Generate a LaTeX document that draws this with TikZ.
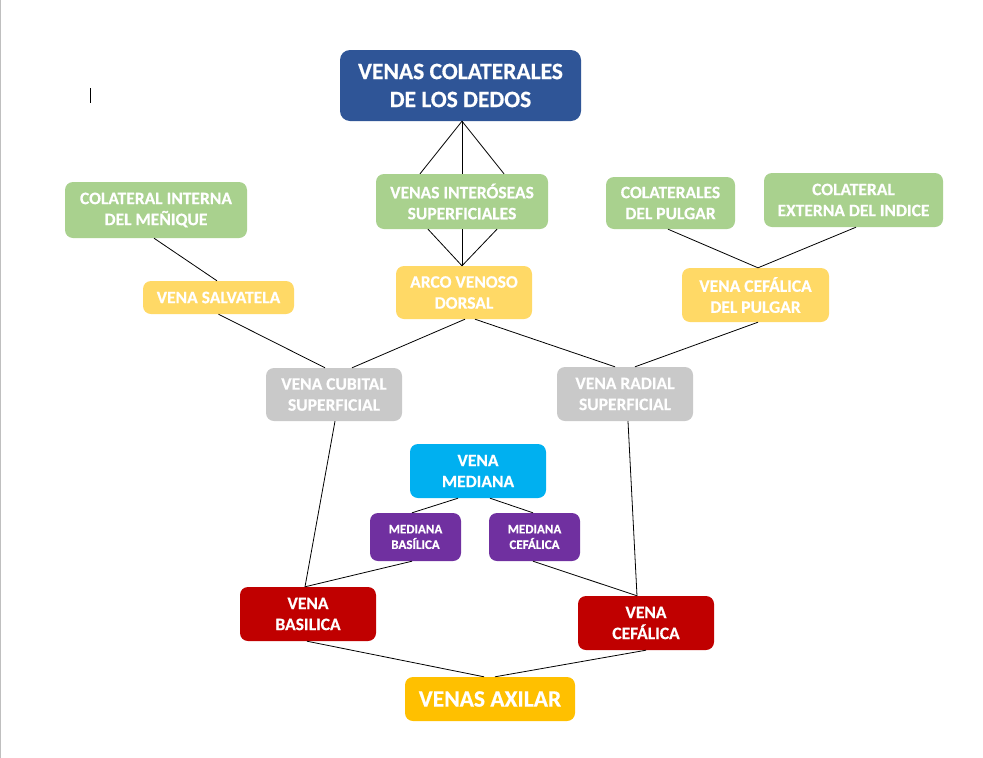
\documentclass[tikz,border=0pt]{standalone}
\usepackage{fontspec}
\setmainfont{Carlito}[BoldFeatures={FakeBold=0.5}]
\usetikzlibrary{calc}
\definecolor{cblue}{HTML}{2F5597}
\definecolor{cgreen}{HTML}{A9D18E}
\definecolor{cyellow}{HTML}{FFD966}
\definecolor{cgray}{HTML}{C9C9C9}
\definecolor{ccyan}{HTML}{00B0F0}
\definecolor{cpurple}{HTML}{7030A0}
\definecolor{cred}{HTML}{C00000}
\definecolor{cgold}{HTML}{FFC000}
\definecolor{cborder}{HTML}{BFBFBF}
\tikzset{
  box/.style={rounded corners=8pt, inner sep=0pt, align=center, text=white,
    font=\fontsize{17.5}{21}\selectfont\bfseries},
  bigbox/.style={box, rounded corners=10pt, font=\fontsize{23.5}{28}\selectfont\bfseries},
  smallbox/.style={box, font=\fontsize{13}{15.5}\selectfont\bfseries},
  wh/.style 2 args={minimum width=#1pt, minimum height=#2pt},
  link/.style={draw=black, line width=0.8pt},
}
\begin{document}
\begin{tikzpicture}[x=1pt,y=-1pt]
\useasboundingbox (0,0) rectangle (983,758);
\fill[white] (0,0) rectangle (983,758);
\draw[cborder, line width=1.2pt] (0.6,0) -- (0.6,758);
\draw[black, line width=0.9pt] (90,88) -- (90,103);

\node[bigbox, fill=cblue, wh={241}{71}] (top) at (460.5,85.5) {VENAS COLATERALES\\DE LOS DEDOS};
\node[box, fill=cgreen, wh={182}{56}] (cim) at (156,210) {COLATERAL INTERNA\\DEL MEÑIQUE};
\node[box, fill=cyellow, wh={151}{33}] (salv) at (218.5,297.5) {VENA SALVATELA};
\node[box, fill=cgreen, wh={172}{55}] (inter) at (462,201.5) {VENAS INTERÓSEAS\\SUPERFICIALES};
\node[box, fill=cyellow, wh={136}{53}] (arco) at (464,292.5) {ARCO VENOSO\\DORSAL};
\node[box, fill=cgreen, wh={129}{52}] (cpul) at (670.5,203) {COLATERALES\\DEL PULGAR};
\node[box, fill=cgreen, wh={179}{54}] (cext) at (853.5,200) {COLATERAL\\EXTERNA DEL INDICE};
\node[box, fill=cyellow, wh={147}{54}] (cefp) at (755.5,295) {VENA CEFÁLICA\\DEL PULGAR};
\node[box, fill=cgray, wh={136}{53}] (cub) at (334,394.5) {VENA CUBITAL\\SUPERFICIAL};
\node[box, fill=cgray, wh={136}{54}] (rad) at (625,394) {VENA RADIAL\\SUPERFICIAL};
\node[box, fill=ccyan, wh={136}{54}] (med) at (478,471) {VENA\\MEDIANA};
\node[smallbox, fill=cpurple, wh={91}{48}] (mbas) at (415.5,537) {MEDIANA\\BASÍLICA};
\node[smallbox, fill=cpurple, wh={91}{48}] (mcef) at (534.5,537) {MEDIANA\\CEFÁLICA};
\node[box, fill=cred, wh={136}{54}] (bas) at (308,614) {VENA\\BASILICA};
\node[box, fill=cred, wh={136}{54}] (cef) at (646,623) {VENA\\CEFÁLICA};
\node[bigbox, rounded corners=8pt, fill=cgold, wh={170}{44}] (axi) at (490,699) {VENAS AXILAR};

\draw[link] ([xshift=1.5]top.south) -- ([xshift=-42]inter.north);
\draw[link] ([xshift=1.5]top.south) -- (inter.north);
\draw[link] ([xshift=1.5]top.south) -- ([xshift=42]inter.north);
\draw[link] ([xshift=-34]inter.south) -- ([xshift=-2]arco.north);
\draw[link] (inter.south) -- ([xshift=-2]arco.north);
\draw[link] ([xshift=35]inter.south) -- ([xshift=-2]arco.north);
\draw[link] ([xshift=-2]cim.south) -- ([xshift=-1.5]salv.north);
\draw[link] (salv.south) -- ([xshift=-9]cub.north);
\draw[link] ([xshift=1]arco.south) -- ([xshift=18]cub.north);
\draw[link] ([xshift=11]arco.south) -- ([xshift=-10]rad.north);
\draw[link] ([xshift=2.5]cefp.south) -- ([xshift=10]rad.north);
\draw[link] ([xshift=-2.5]cpul.south) -- ([xshift=2.5]cefp.north);
\draw[link] ([xshift=2.5]cext.south) -- ([xshift=2.5]cefp.north);
\draw[link] ([xshift=1]cub.south) -- ([xshift=-3]bas.north);
\draw[link] ([xshift=-3.5]mbas.south) -- ([xshift=-3]bas.north);
\draw[link] ([xshift=-20]med.south) -- ([xshift=-3.5]mbas.north);
\draw[link] ([xshift=12]med.south) -- ([xshift=-1.5]mcef.north);
\draw[link] ([xshift=3]rad.south) -- ([xshift=-9]cef.north);
\draw[link] ([xshift=-1.5]mcef.south) -- ([xshift=-9]cef.north);
\draw[link] ([xshift=-1]bas.south) -- ([xshift=-6]axi.north);
\draw[link] (cef.south) -- ([xshift=5]axi.north);
\end{tikzpicture}
\end{document}
